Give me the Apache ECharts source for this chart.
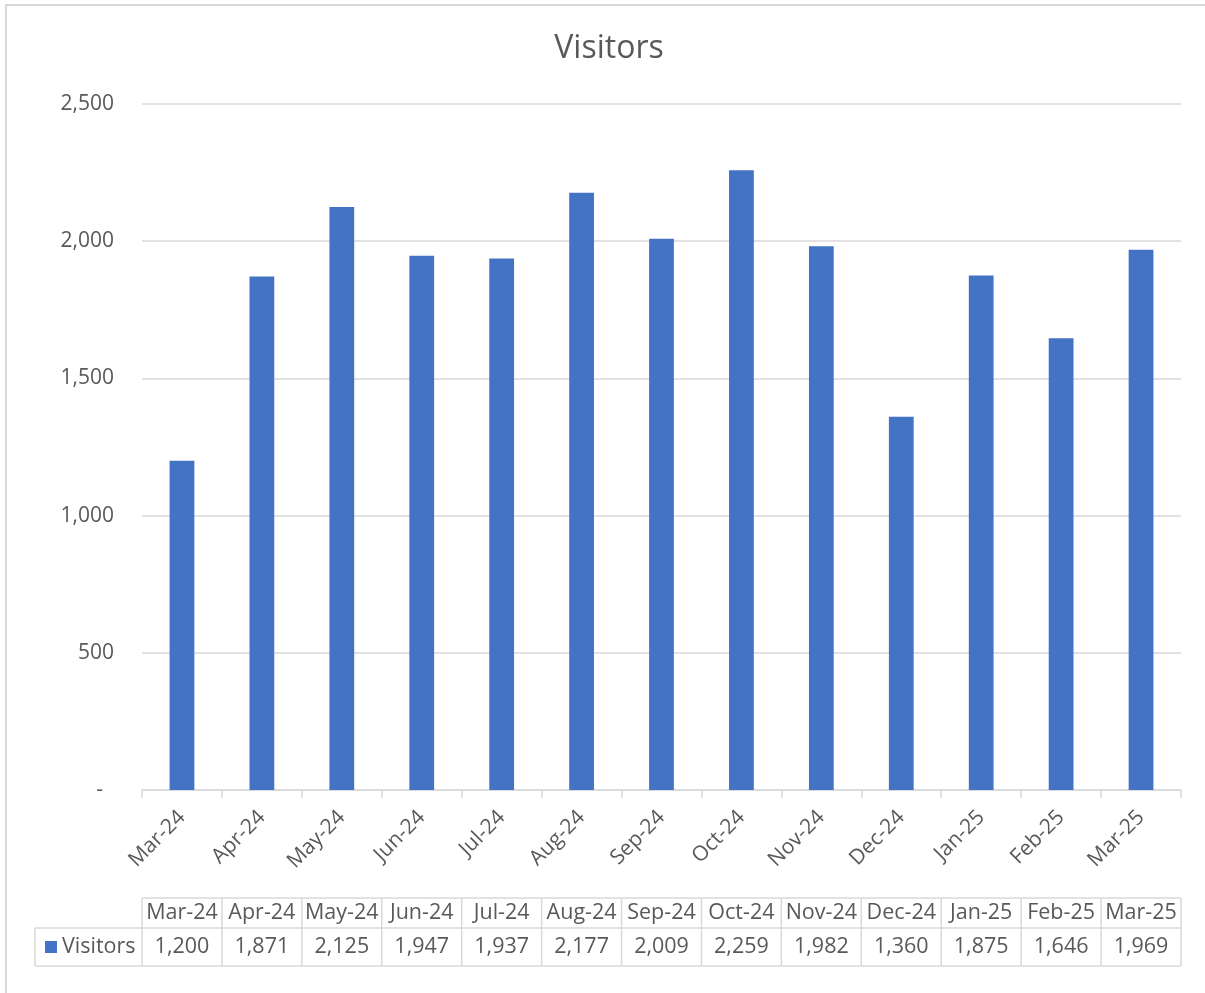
<!DOCTYPE html>
<html>
<head>
<meta charset="utf-8">
<script src="https://cdn.jsdelivr.net/npm/echarts@6/dist/echarts.min.js"></script>
<style>
html,body{margin:0;padding:0;background:#fff;}
#chart{width:1205px;height:993px;}
</style>
</head>
<body>
<div id="chart"></div>
<script>
const categories = ['Mar-24','Apr-24','May-24','Jun-24','Jul-24','Aug-24','Sep-24','Oct-24','Nov-24','Dec-24','Jan-25','Feb-25','Mar-25'];
const visitors = [1200,1871,2125,1947,1937,2177,2009,2259,1982,1360,1875,1646,1969];
const seriesName = 'Visitors';
const yTicks = [0,500,1000,1500,2000,2500];

const FONT = '"Open Sans", "Noto Sans", sans-serif';
const TXT = '#595959';
const LINE = '#d9d9d9';
const BAR = '#4472C4';

const chart = echarts.init(document.getElementById('chart'), null, {renderer:'canvas'});
const option = {
  animation: false,
  backgroundColor: '#fff',
  title: {
    text: 'Visitors', left: 604, textAlign: 'center', top: 28,
    textStyle: {fontFamily: FONT, fontSize: 32, fontWeight: 'normal', color: TXT}
  },
  grid: {left: 142, right: 24, top: 104, bottom: 203, containLabel: false},
  xAxis: {
    type: 'category', data: categories,
    axisLine: {show: true, lineStyle: {color: LINE, width: 1.5}},
    axisTick: {show: true, length: 8, lineStyle: {color: LINE, width: 1.5}},
    axisLabel: {rotate: 45, margin: 24, fontFamily: FONT, fontSize: 21, color: TXT, interval: 0}
  },
  yAxis: {
    type: 'value', min: yTicks[0], max: yTicks[yTicks.length-1], interval: 500,
    axisLine: {show: false}, axisTick: {show: false},
    splitLine: {lineStyle: {color: LINE, width: 1.5}},
    axisLabel: {
      margin: 28, fontFamily: FONT, fontSize: 21, color: TXT,
      formatter: v => v === 0 ? '-  ' : v.toLocaleString('en-US')
    }
  },
  series: [{
    name: seriesName, type: 'bar', data: visitors, barWidth: '31%',
    itemStyle: {color: BAR}
  }]
};
chart.setOption(option);

// Data table under the chart, aligned to the category axis
const centers = categories.map(c => chart.convertToPixel({xAxisIndex: 0}, c));
const band = centers[1] - centers[0];
const left = centers[0] - band/2;
const right = centers[centers.length-1] + band/2;
const yTop = 898, yMid = 928, yBot = 966, labelLeft = 35;
const TF = '21.5px ' + FONT;
const g = [];
const ls = {stroke: LINE, lineWidth: 1.5};
g.push({type:'rect', shape:{x:6, y:5, width:1300, height:1100}, style:{fill:'none', stroke: LINE, lineWidth: 2}, silent:true});
g.push({type:'line', shape:{x1:left, y1:yTop, x2:right, y2:yTop}, style: ls});
g.push({type:'line', shape:{x1:labelLeft, y1:yMid, x2:right, y2:yMid}, style: ls});
g.push({type:'line', shape:{x1:labelLeft, y1:yBot, x2:right, y2:yBot}, style: ls});
g.push({type:'line', shape:{x1:labelLeft, y1:yMid, x2:labelLeft, y2:yBot}, style: ls});
for (let i = 0; i <= categories.length; i++) {
  const x = left + i*band;
  g.push({type:'line', shape:{x1:x, y1:yTop, x2:x, y2:yBot}, style: ls});
}
categories.forEach((c, i) => {
  g.push({type:'text', x: centers[i], y: (yTop+yMid)/2, style:{text: c, fill: TXT, font: TF, align:'center', verticalAlign:'middle'}});
  g.push({type:'text', x: centers[i], y: (yMid+yBot)/2, style:{text: visitors[i].toLocaleString('en-US'), fill: TXT, font: TF, align:'center', verticalAlign:'middle'}});
});
g.push({type:'rect', shape:{x:45, y:(yMid+yBot)/2-6, width:12, height:12}, style:{fill: BAR}});
g.push({type:'text', x: 62, y: (yMid+yBot)/2, style:{text: seriesName, fill: TXT, font: TF, align:'left', verticalAlign:'middle'}});
chart.setOption({graphic: g});
</script>
</body>
</html>
